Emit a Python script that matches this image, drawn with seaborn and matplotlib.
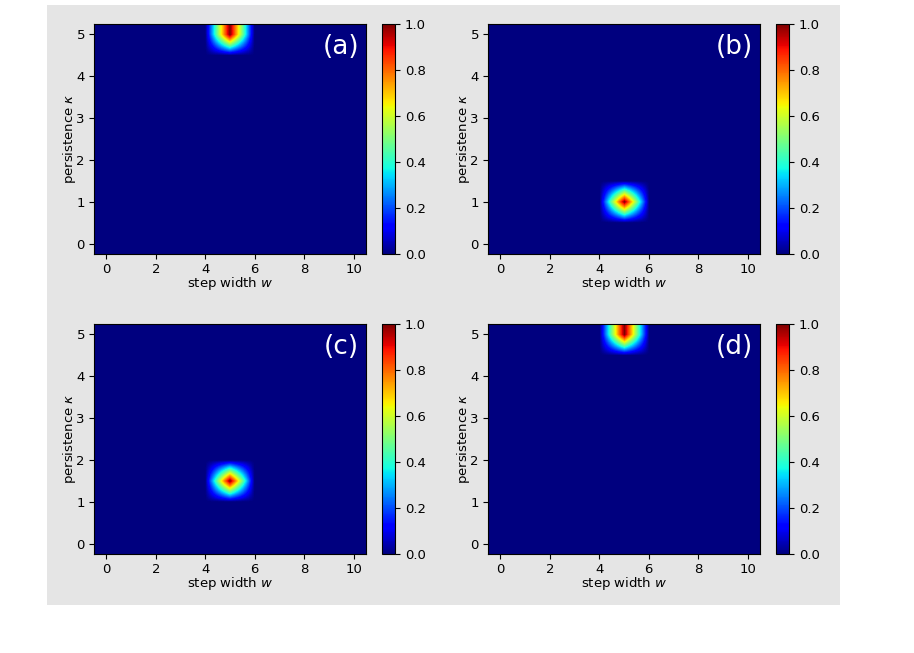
import numpy as np
import matplotlib
matplotlib.use("Agg")
import matplotlib.pyplot as plt
from matplotlib.patches import Rectangle
import seaborn as sns

# ---- data ----
step_width = [0, 1, 2, 3, 4, 5, 6, 7, 8, 9, 10]
persistence = [0.0, 0.5, 1.0, 1.5, 2.0, 2.5, 3.0, 3.5, 4.0, 4.5, 5.0]
panel_labels = ["(a)", "(b)", "(c)", "(d)"]
peak_w = [5, 5, 5, 5]
peak_kappa = [5.0, 1.0, 1.5, 5.0]
peak_value = [1.0, 1.0, 1.0, 1.0]
xticks = [0, 2, 4, 6, 8, 10]
yticks = [0, 1, 2, 3, 4, 5]
cbar_ticks = [0.0, 0.2, 0.4, 0.6, 0.8, 1.0]

sns.set_style("ticks", rc={"axes.edgecolor": "black", "text.color": "black",
                           "xtick.color": "black", "ytick.color": "black",
                           "axes.labelcolor": "black", "axes.linewidth": 0.8,
                           "xtick.major.size": 3.5, "ytick.major.size": 3.5,
                           "xtick.major.width": 0.8, "ytick.major.width": 0.8})
plt.rcParams["font.family"] = ["DejaVu Sans"]
cmap = matplotlib.colormaps["jet"]

W, H = 914, 653
fig = plt.figure(figsize=(W / 100, H / 100), dpi=100, facecolor="white")
fig.patches.append(Rectangle((47 / W, 1 - 605 / H), 793 / W, 600 / H,
                             transform=fig.transFigure, facecolor="#e5e5e5",
                             edgecolor="none", zorder=-10))

ax_left = [94, 488, 94, 488]
ax_top = [24, 24, 324, 324]
cb_left = [382, 776, 382, 776]
aw, ah, cw = 272, 230, 13

dw = step_width[1] - step_width[0]
dk = persistence[1] - persistence[0]
extent = [step_width[0] - dw / 2, step_width[-1] + dw / 2,
          persistence[0] - dk / 2, persistence[-1] + dk / 2]

for i in range(4):
    grid = np.zeros((len(persistence), len(step_width)))
    grid[persistence.index(peak_kappa[i]), step_width.index(peak_w[i])] = peak_value[i]
    ax = fig.add_axes([ax_left[i] / W, 1 - (ax_top[i] + ah) / H, aw / W, ah / H])
    ax.patch.set_alpha(0)
    im = ax.imshow(grid, origin="lower", extent=extent, aspect="auto",
                   cmap=cmap, vmin=0, vmax=1, interpolation="bilinear")
    ax.set_xticks(xticks)
    ax.set_yticks(yticks)
    ax.tick_params(labelsize=9.5, pad=3)
    ax.set_xlabel("step width $w$", fontsize=9.5)
    ax.set_ylabel("persistence $\\kappa$", fontsize=9.5)
    ax.xaxis.set_label_coords(0.5, -0.09)
    ax.yaxis.set_label_coords(-0.058, 0.5)
    ax.text(0.975, 0.955, panel_labels[i], transform=ax.transAxes,
            ha="right", va="top", color="white", fontsize=19)
    cax = fig.add_axes([cb_left[i] / W, 1 - (ax_top[i] + ah) / H, cw / W, ah / H])
    cb = fig.colorbar(im, cax=cax, ticks=cbar_ticks)
    cb.ax.set_yticklabels([f"{t:.1f}" for t in cbar_ticks])
    cb.ax.tick_params(labelsize=9.5)
    cb.outline.set_edgecolor("black")
    cb.outline.set_linewidth(0.8)

fig.savefig("out.png", dpi=100, facecolor="white")
